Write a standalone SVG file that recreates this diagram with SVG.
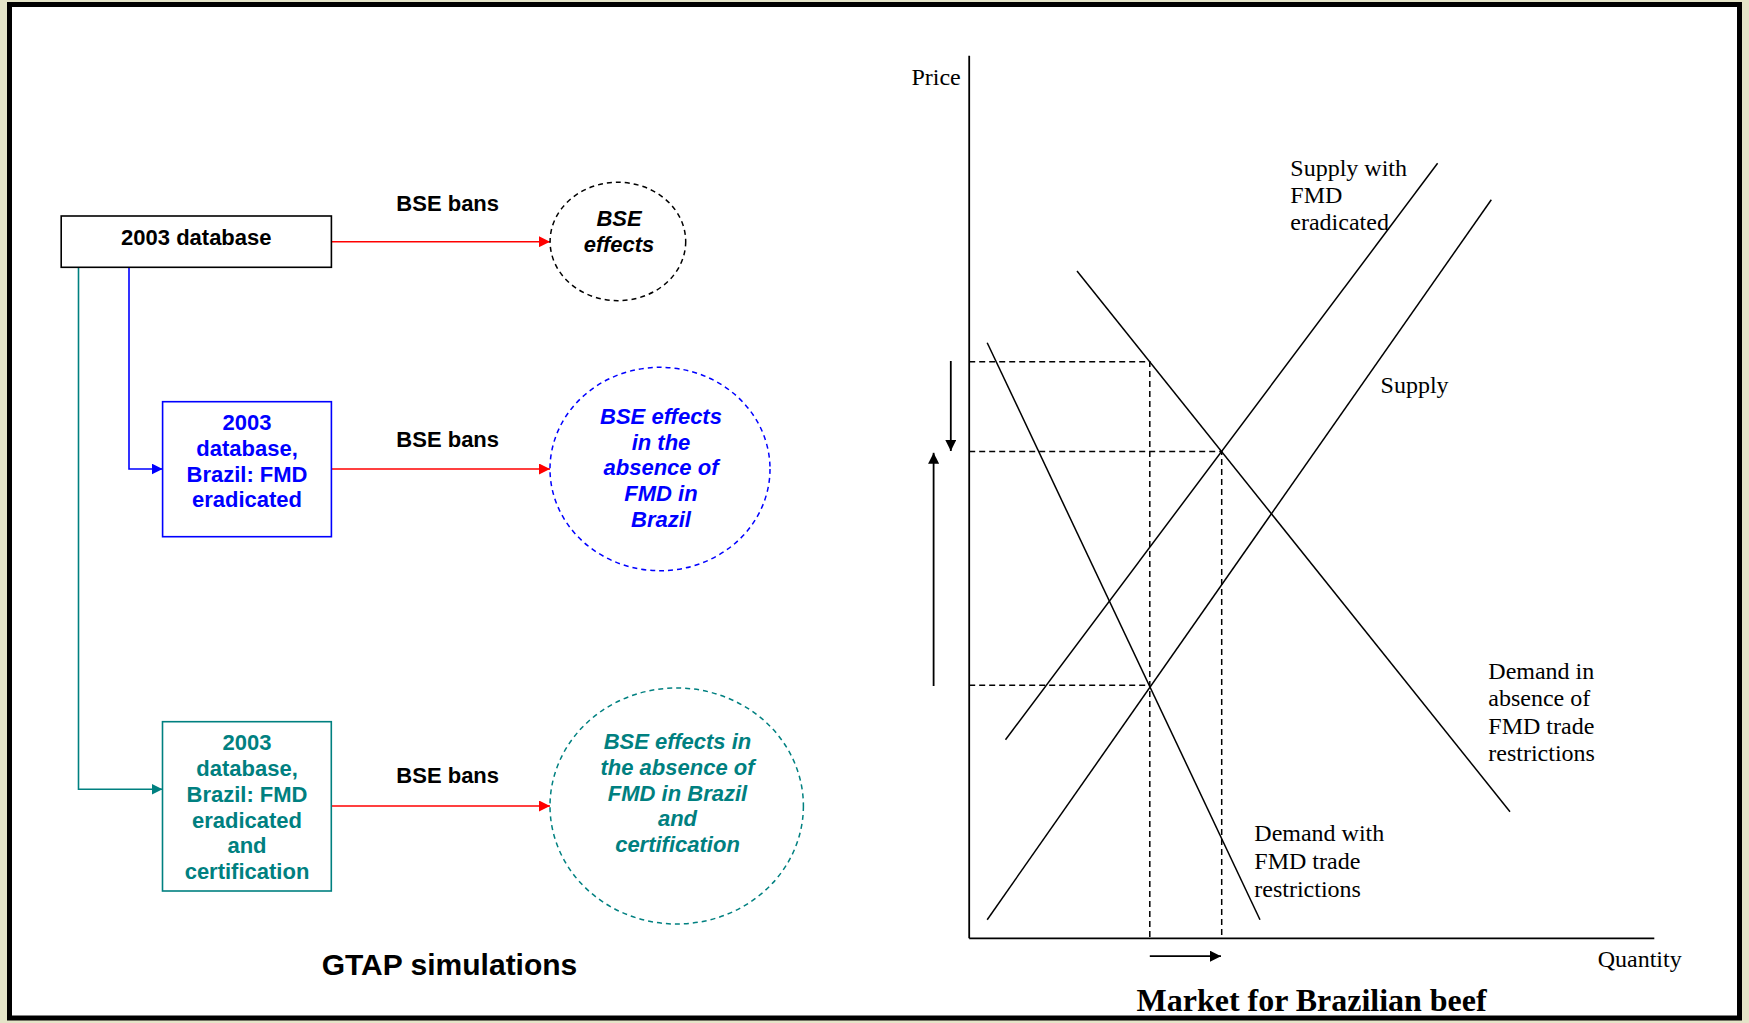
<svg xmlns="http://www.w3.org/2000/svg" width="1749" height="1023" viewBox="0 0 1749 1023">
<defs>
<style>
.lbl{font-family:"Liberation Sans",Arial,sans-serif;font-weight:bold;font-size:22px;text-anchor:middle}
.it{font-family:"Liberation Sans",Arial,sans-serif;font-weight:bold;font-style:italic;font-size:22px;text-anchor:middle}
.ser{font-family:"Liberation Serif","Times New Roman",serif;font-size:24px;fill:#000}
.box{fill:#fff;stroke-width:1.6}
.ell{fill:#fff;stroke-width:1.5;stroke-dasharray:5 4}
.conn{fill:none;stroke-width:1.6}
.crv{stroke:#000;stroke-width:1.5;fill:none}
.dash{stroke:#000;stroke-width:1.5;stroke-dasharray:6 4;fill:none}
</style>
<marker id="aRed" markerUnits="userSpaceOnUse" markerWidth="11" markerHeight="11" refX="11" refY="5.5" orient="auto"><path d="M0,0 L11,5.5 L0,11 z" fill="#ff0000"/></marker>
<marker id="aBlue" markerUnits="userSpaceOnUse" markerWidth="11" markerHeight="11" refX="11" refY="5.5" orient="auto"><path d="M0,0 L11,5.5 L0,11 z" fill="#0000ff"/></marker>
<marker id="aTeal" markerUnits="userSpaceOnUse" markerWidth="11" markerHeight="11" refX="11" refY="5.5" orient="auto"><path d="M0,0 L11,5.5 L0,11 z" fill="#008080"/></marker>
<marker id="aBlk" markerUnits="userSpaceOnUse" markerWidth="11" markerHeight="11" refX="11" refY="5.5" orient="auto"><path d="M0,0 L11,5.5 L0,11 z" fill="#000"/></marker>
</defs>
<rect x="0" y="0" width="1749" height="1023" fill="#e4e4c8"/>
<rect x="9.5" y="4.5" width="1730" height="1013.5" fill="#fff" stroke="#000" stroke-width="5"/>

<g id="connectors">
<line class="conn" x1="331.4" y1="241.7" x2="550" y2="241.7" stroke="#ff0000" marker-end="url(#aRed)"/>
<line class="conn" x1="331.4" y1="469" x2="550" y2="469" stroke="#ff0000" marker-end="url(#aRed)"/>
<line class="conn" x1="331.4" y1="806" x2="550" y2="806" stroke="#ff0000" marker-end="url(#aRed)"/>
<polyline class="conn" points="129,267.3 129,469 162.6,469" stroke="#0000ff" marker-end="url(#aBlue)"/>
<polyline class="conn" points="78.5,267.3 78.5,789.3 162.5,789.3" stroke="#008080" marker-end="url(#aTeal)"/>
</g>

<g id="bse-bans-labels">
<text class="lbl" x="447.7" y="210.7">BSE bans</text>
<text class="lbl" x="447.7" y="446.7">BSE bans</text>
<text class="lbl" x="447.7" y="783.3">BSE bans</text>
</g>

<g id="node-db2003">
<rect class="box" x="61.2" y="216" width="270.2" height="51.3" stroke="#000"/>
<text class="lbl" x="196.3" y="245" fill="#000">2003 database</text>
</g>

<g id="node-db-fmd">
<rect class="box" x="162.6" y="401.7" width="168.8" height="135" stroke="#0000ff"/>
<text class="lbl" fill="#0000ff"><tspan x="247" y="430">2003</tspan><tspan x="247" y="455.8">database,</tspan><tspan x="247" y="481.6">Brazil: FMD</tspan><tspan x="247" y="507.4">eradicated</tspan></text>
</g>

<g id="node-db-fmd-cert">
<rect class="box" x="162.5" y="721.7" width="168.8" height="169.3" stroke="#008080"/>
<text class="lbl" fill="#008080"><tspan x="247" y="750">2003</tspan><tspan x="247" y="776">database,</tspan><tspan x="247" y="801.8">Brazil: FMD</tspan><tspan x="247" y="827.6">eradicated</tspan><tspan x="247" y="853.4">and</tspan><tspan x="247" y="879.3">certification</tspan></text>
</g>

<g id="node-bse-effects">
<ellipse class="ell" cx="617.9" cy="241.5" rx="67.8" ry="59.2" stroke="#000"/>
<text class="it" fill="#000"><tspan x="619" y="226">BSE</tspan><tspan x="619" y="251.7">effects</tspan></text>
</g>

<g id="node-bse-nofmd">
<ellipse class="ell" cx="660" cy="469" rx="110" ry="101.7" stroke="#0000ff"/>
<text class="it" fill="#0000ff"><tspan x="661" y="424">BSE effects</tspan><tspan x="661" y="449.6">in the</tspan><tspan x="661" y="475.2">absence of</tspan><tspan x="661" y="500.9">FMD in</tspan><tspan x="661" y="526.6">Brazil</tspan></text>
</g>

<g id="node-bse-nofmd-cert">
<ellipse class="ell" cx="676.7" cy="806" rx="126.7" ry="118" stroke="#008080"/>
<text class="it" fill="#008080"><tspan x="677.5" y="749.3">BSE effects in</tspan><tspan x="677.5" y="774.9">the absence of</tspan><tspan x="677.5" y="800.5">FMD in Brazil</tspan><tspan x="677.5" y="826.1">and</tspan><tspan x="677.5" y="851.7">certification</tspan></text>
</g>

<text class="lbl" x="449.5" y="975" style="font-size:30px" fill="#000">GTAP simulations</text>

<g id="market-chart">
<line x1="969.2" y1="55.8" x2="969.2" y2="938.3" stroke="#000" stroke-width="1.8"/>
<line x1="969.2" y1="938.3" x2="1654.3" y2="938.3" stroke="#000" stroke-width="1.8"/>
<line class="crv" x1="1005.5" y1="739.7" x2="1437.6" y2="163.3"/>
<line class="crv" x1="987.2" y1="919.7" x2="1491.3" y2="199.7"/>
<line class="crv" x1="1077" y1="271" x2="1510" y2="811.7"/>
<line class="crv" x1="987.2" y1="342.7" x2="1260" y2="919.7"/>
<polyline class="dash" points="969.2,361.7 1149.8,361.7 1149.8,938.3"/>
<polyline class="dash" points="969.2,451.6 1221.7,451.6 1221.7,938.3"/>
<line class="dash" x1="969.2" y1="685.3" x2="1149.8" y2="685.3"/>
<line x1="950.8" y1="361" x2="950.8" y2="451" stroke="#000" stroke-width="1.8" marker-end="url(#aBlk)"/>
<line x1="933.6" y1="686" x2="933.6" y2="452.8" stroke="#000" stroke-width="1.8" marker-end="url(#aBlk)"/>
<line x1="1149.8" y1="956.2" x2="1221" y2="956.2" stroke="#000" stroke-width="1.8" marker-end="url(#aBlk)"/>
<text class="ser" x="911.4" y="85">Price</text>
<text class="ser"><tspan x="1290.3" y="176">Supply with</tspan><tspan x="1290.3" y="203">FMD</tspan><tspan x="1290.3" y="230">eradicated</tspan></text>
<text class="ser" x="1380.6" y="393">Supply</text>
<text class="ser"><tspan x="1488.3" y="679">Demand in</tspan><tspan x="1488.3" y="706.3">absence of</tspan><tspan x="1488.3" y="733.6">FMD trade</tspan><tspan x="1488.3" y="761">restrictions</tspan></text>
<text class="ser"><tspan x="1254.3" y="841">Demand with</tspan><tspan x="1254.3" y="868.8">FMD trade</tspan><tspan x="1254.3" y="896.6">restrictions</tspan></text>
<text class="ser" x="1597.7" y="966.5">Quantity</text>
<text class="ser" x="1136.6" y="1011" textLength="350" lengthAdjust="spacingAndGlyphs" style="font-weight:bold;font-size:31px">Market for Brazilian beef</text>
</g>
</svg>
